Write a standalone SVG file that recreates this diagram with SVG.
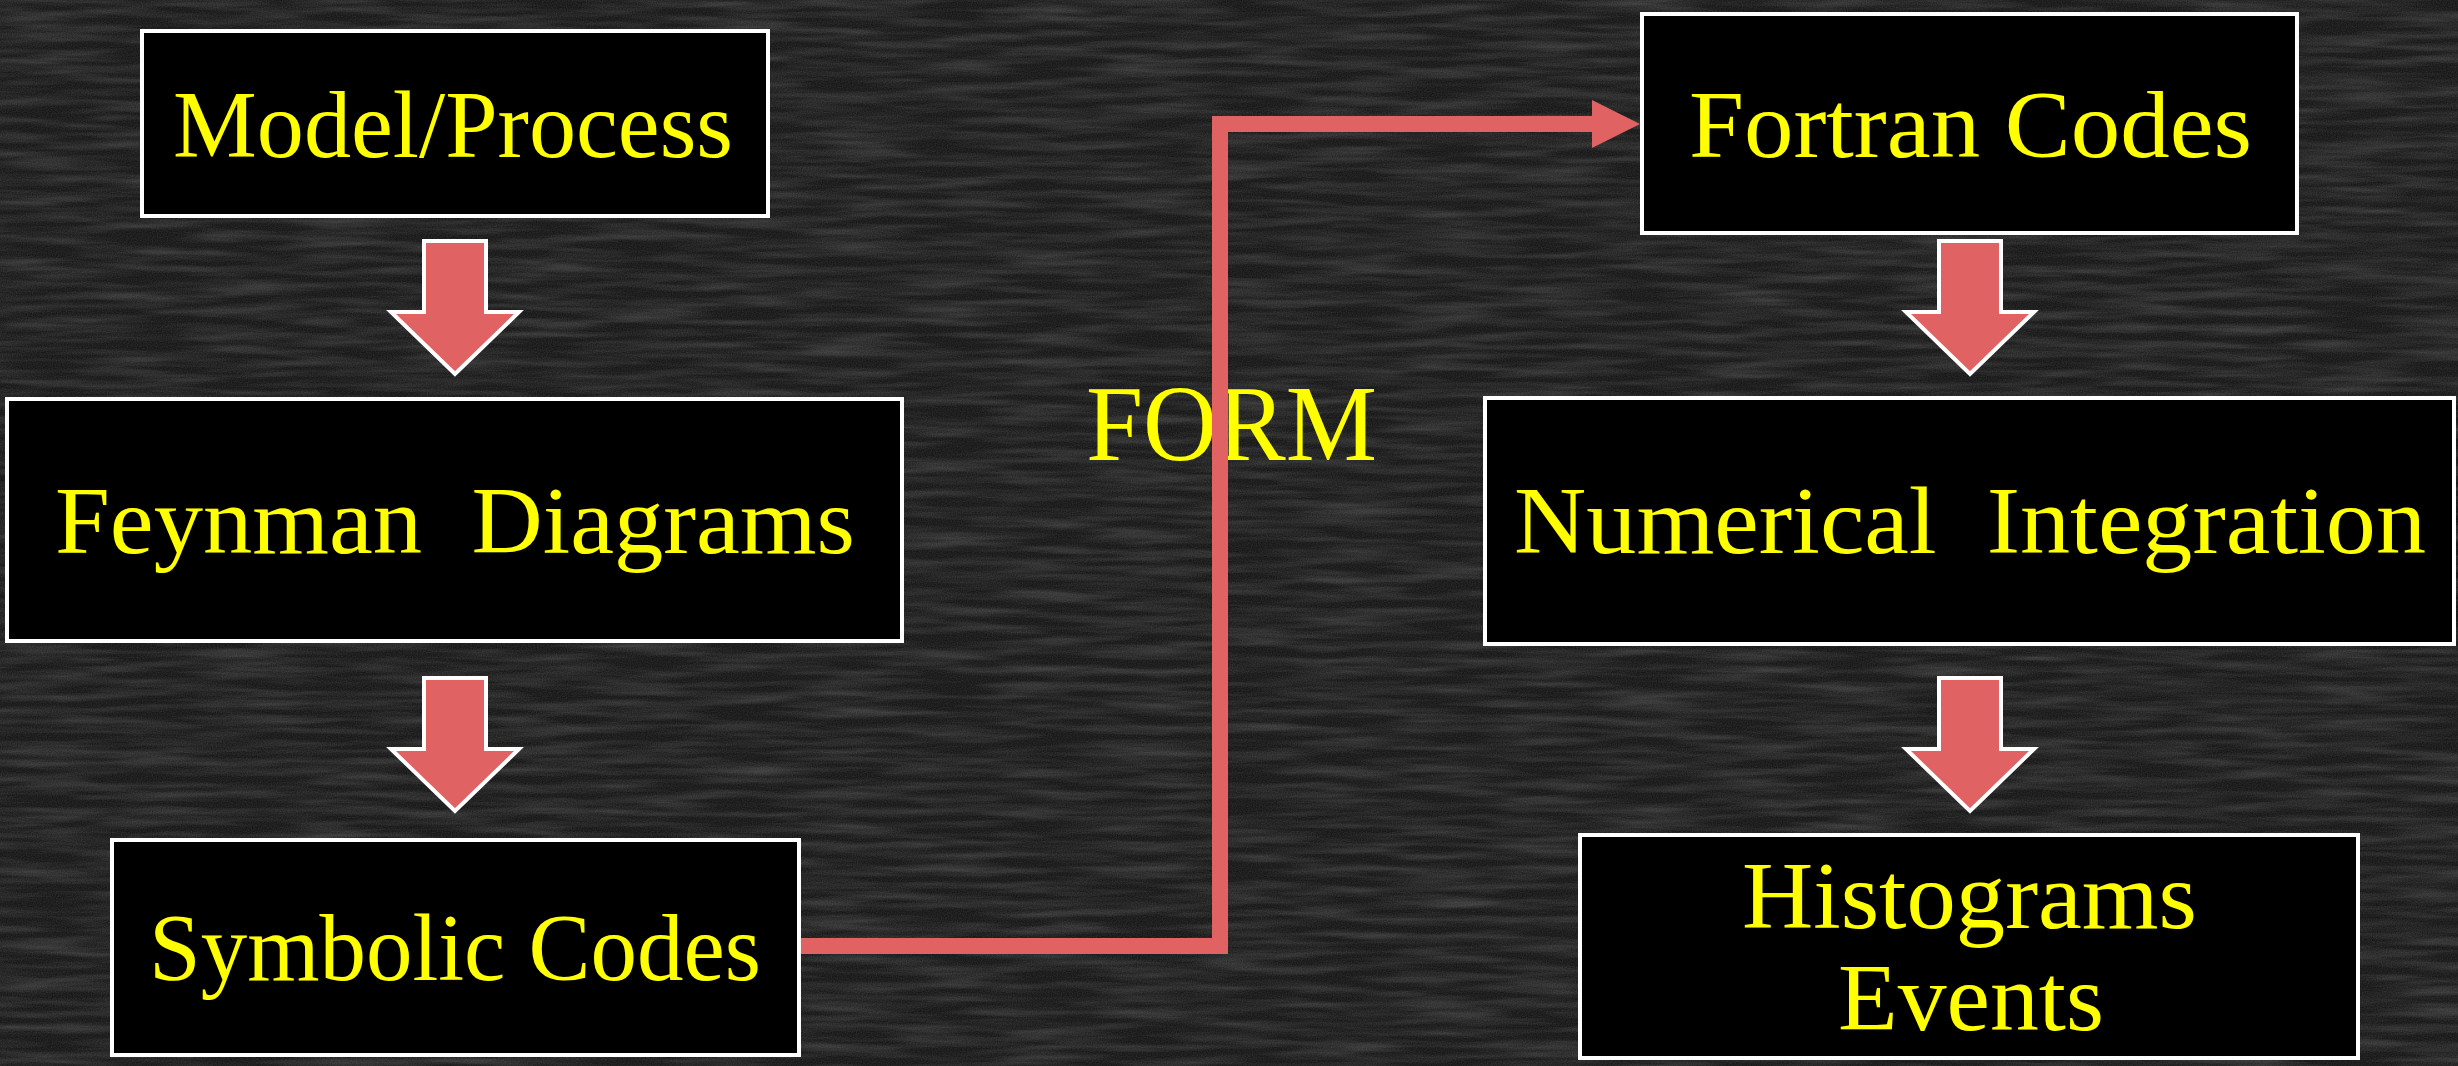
<svg xmlns="http://www.w3.org/2000/svg" width="2458" height="1066" viewBox="0 0 2458 1066">
  <defs>
    <style>
      .box { fill: #000000; stroke: #ffffff; stroke-width: 4; }
      .lbl { font-family: "Liberation Serif", "DejaVu Serif", serif; font-size: 96px; fill: #ffff00; }
      .form { font-family: "Liberation Serif", "DejaVu Serif", serif; font-size: 108px; fill: #ffff00; }
      .big { fill: #e06262; stroke: #ffffff; stroke-width: 4; stroke-linejoin: miter; }
      .conn { fill: none; stroke: #e06262; stroke-width: 16; stroke-linejoin: miter; }
    </style>
    <filter id="chalk" x="0" y="0" width="100%" height="100%">
      <feTurbulence type="fractalNoise" baseFrequency="0.01 0.12" numOctaves="3" seed="7" result="n1"/>
      <feColorMatrix in="n1" type="matrix" values="0 0 0 0 1  0 0 0 0 1  0 0 0 0 1  0.28 0 0 0 -0.1" result="a1"/>
      <feTurbulence type="fractalNoise" baseFrequency="0.8" numOctaves="1" seed="2" result="n2"/>
      <feColorMatrix in="n2" type="matrix" values="0 0 0 0 1  0 0 0 0 1  0 0 0 0 1  0.16 0 0 0 -0.05" result="a2"/>
      <feMerge><feMergeNode in="a1"/><feMergeNode in="a2"/></feMerge>
    </filter>
    <marker id="head" markerUnits="strokeWidth" markerWidth="3" markerHeight="3" viewBox="0 0 3 3" refX="0" refY="1.5" orient="auto">
      <path d="M0,0 L3,1.5 L0,3 Z" fill="#e06262"/>
    </marker>
    <path id="bigArrow" class="big" d="M-31,0 H31 V71 H64 L0,133 L-64,71 H-31 Z"/>
  </defs>

  <g id="background">
    <rect x="0" y="0" width="2458" height="1066" fill="#181818"/>
    <rect x="0" y="0" width="2458" height="1066" fill="#ffffff" filter="url(#chalk)"/>
  </g>

  <g id="node-model">
    <rect class="box" x="142" y="31" width="626" height="185"/>
    <text class="lbl" x="173" y="157" textLength="560" lengthAdjust="spacingAndGlyphs">Model/Process</text>
  </g>
  <g id="node-feynman">
    <rect class="box" x="7" y="399" width="895" height="242"/>
    <text class="lbl" x="55" y="553" textLength="800" lengthAdjust="spacingAndGlyphs" xml:space="preserve">Feynman  Diagrams</text>
  </g>
  <g id="node-symbolic">
    <rect class="box" x="112" y="840" width="687" height="215"/>
    <text class="lbl" x="149" y="980" textLength="612" lengthAdjust="spacingAndGlyphs">Symbolic Codes</text>
  </g>
  <g id="node-fortran">
    <rect class="box" x="1642" y="14" width="655" height="219"/>
    <text class="lbl" x="1689" y="157" textLength="563" lengthAdjust="spacingAndGlyphs">Fortran Codes</text>
  </g>
  <g id="node-numerical">
    <rect class="box" x="1485" y="398" width="969" height="246"/>
    <text class="lbl" x="1514" y="553" textLength="912" lengthAdjust="spacingAndGlyphs" xml:space="preserve">Numerical  Integration</text>
  </g>
  <g id="node-histograms">
    <rect class="box" x="1580" y="835" width="778" height="223"/>
    <text class="lbl" x="1742" y="928" textLength="455" lengthAdjust="spacingAndGlyphs">Histograms</text>
    <text class="lbl" x="1838" y="1030" textLength="266" lengthAdjust="spacingAndGlyphs">Events</text>
  </g>

  <g id="label-form">
    <text class="form" x="1086" y="460" textLength="291" lengthAdjust="spacingAndGlyphs">FORM</text>
  </g>

  <g id="connectors">
    <use href="#bigArrow" x="455" y="241"/>
    <use href="#bigArrow" x="455" y="678"/>
    <use href="#bigArrow" x="1970" y="241"/>
    <use href="#bigArrow" x="1970" y="678"/>
    <path class="conn" d="M801,946 H1220 V124 H1592" marker-end="url(#head)"/>
  </g>
</svg>
